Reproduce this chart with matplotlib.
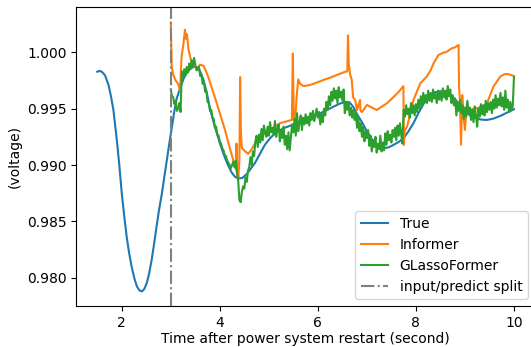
import numpy as np
import matplotlib
matplotlib.use('Agg')
import matplotlib.pyplot as plt

# True voltage (time in s, voltage)
true_t = [1.50, 1.55, 1.60, 1.66, 1.73, 1.78, 1.83, 1.90, 1.95, 2.00, 2.05, 2.10, 2.15,
          2.20, 2.26, 2.31, 2.36, 2.41, 2.46, 2.51, 2.56, 2.61, 2.66, 2.71, 2.76, 2.82,
          2.87, 2.92, 2.97, 3.02, 3.07, 3.12, 3.19, 3.26, 3.32, 3.39, 3.45, 3.50, 3.55,
          3.60, 3.67, 3.74, 3.80, 3.87, 3.94, 4.00, 4.07, 4.15, 4.24, 4.31, 4.38, 4.46,
          4.55, 4.62, 4.72, 4.82, 4.92, 5.03, 5.15, 5.30, 5.47, 5.64, 5.81, 5.98, 6.15,
          6.32, 6.45, 6.56, 6.65, 6.73, 6.80, 6.90, 7.00, 7.10, 7.20, 7.29, 7.37, 7.45,
          7.54, 7.65, 7.75, 7.85, 7.95, 8.05, 8.16, 8.27, 8.39, 8.50, 8.60, 8.67, 8.75,
          8.84, 8.94, 9.04, 9.14, 9.24, 9.35, 9.45, 9.58, 9.72, 9.86, 10.00]
true_v = [0.99828, 0.99835, 0.99825, 0.99795, 0.99710, 0.99610, 0.99488, 0.99220, 0.99000,
          0.98750, 0.98550, 0.98365, 0.98220, 0.98100, 0.97990, 0.97922, 0.97888, 0.97878,
          0.97900, 0.97952, 0.98040, 0.98159, 0.98300, 0.98454, 0.98600, 0.98750, 0.98900,
          0.99045, 0.99190, 0.99330, 0.99470, 0.99590, 0.99680, 0.99765, 0.99815, 0.99850,
          0.99868, 0.99872, 0.99860, 0.99830, 0.99750, 0.99630, 0.99500, 0.99385, 0.99282,
          0.99195, 0.99105, 0.99015, 0.98935, 0.98895, 0.98880, 0.98885, 0.98920, 0.98960,
          0.99020, 0.99100, 0.99180, 0.99240, 0.99290, 0.99326, 0.99355, 0.99385, 0.99415,
          0.99444, 0.99480, 0.99518, 0.99545, 0.99560, 0.99555, 0.99510, 0.99450, 0.99380,
          0.99300, 0.99230, 0.99180, 0.99155, 0.99150, 0.99158, 0.99178, 0.99205, 0.99238,
          0.99300, 0.99371, 0.99460, 0.99545, 0.99605, 0.99645, 0.99655, 0.99650, 0.99637,
          0.99605, 0.99562, 0.99510, 0.99460, 0.99430, 0.99412, 0.99402, 0.99400, 0.99412,
          0.99435, 0.99465, 0.99495]

# Informer prediction
inf_t = [3.00, 3.005, 3.02, 3.05, 3.10, 3.15, 3.19, 3.22, 3.26, 3.29, 3.31, 3.33, 3.36,
         3.40, 3.45, 3.53, 3.60, 3.67, 3.72, 3.77, 3.84, 3.90, 4.00, 4.10, 4.18, 4.25,
         4.30, 4.33, 4.34, 4.36, 4.38, 4.40, 4.415, 4.43, 4.45, 4.52, 4.58, 4.65, 4.76,
         4.96, 5.23, 5.47, 5.49, 5.51, 5.54, 5.57, 5.60, 5.64, 5.71, 5.84, 5.97, 6.11,
         6.25, 6.39, 6.56, 6.60, 6.615, 6.63, 6.66, 6.69, 6.72, 6.76, 6.80, 6.86, 6.87,
         6.90, 7.00, 7.20, 7.41, 7.55, 7.65, 7.745, 7.755, 7.77, 7.82, 7.88, 7.95, 8.09,
         8.22, 8.30, 8.36, 8.46, 8.55, 8.63, 8.73, 8.80, 8.87, 8.88, 8.90, 8.92, 8.945,
         8.97, 9.00, 9.04, 9.06, 9.11, 9.18, 9.24, 9.35, 9.45, 9.58, 9.72, 9.80, 9.86,
         9.93, 10.00]
inf_v = [1.00265, 1.00150, 0.99870, 0.99800, 0.99750, 0.99720, 0.99660, 0.99960, 1.00080,
         1.00200, 1.00120, 1.00160, 1.00030, 0.99950, 0.99880, 0.99860, 0.99890, 0.99880,
         0.99830, 0.99775, 0.99680, 0.99600, 0.99460, 0.99320, 0.99190, 0.99080, 0.99000,
         0.98960, 0.99190, 0.98920, 0.98890, 0.99050, 0.99780, 0.99300, 0.99150, 0.99120,
         0.99100, 0.99140, 0.99222, 0.99296, 0.99371, 0.99400, 0.99990, 0.99400, 0.99420,
         0.99620, 0.99760, 0.99720, 0.99700, 0.99710, 0.99730, 0.99754, 0.99775, 0.99799,
         0.99828, 0.99830, 1.00150, 0.99900, 0.99800, 0.99760, 0.99600, 0.99577, 0.99488,
         0.99577, 0.99480, 0.99470, 0.99533, 0.99488, 0.99548, 0.99606, 0.99650, 0.99700,
         0.99178, 0.99300, 0.99340, 0.99450, 0.99577, 0.99725, 0.99784, 0.99840, 0.99902,
         0.99976, 0.99995, 1.00005, 1.00035, 1.00045, 1.00065, 0.99700, 0.99548, 0.99180,
         0.99620, 0.99440, 0.99311, 0.99550, 0.99500, 0.99490, 0.99500, 0.99503, 0.99520,
         0.99548, 0.99695, 0.99784, 0.99805, 0.99808, 0.99800, 0.99790]

# GLassoFormer prediction, sampled every 0.025 s from 3.00 to 10.00
glasso_v = [
    0.9967, 0.9961, 0.9960, 0.9954, 0.9957, 0.9948, 0.9950, 0.9955, 0.9947, 0.9983,  # 3.000
    0.9977, 0.9985, 0.9980, 0.9987, 0.9982, 0.9990, 0.9985, 0.9993, 0.9987, 0.9995,  # 3.250
    0.9989, 0.9984, 0.9985, 0.9987, 0.9979, 0.9980, 0.9972, 0.9974, 0.9965, 0.9966,  # 3.500
    0.9956, 0.9955, 0.9948, 0.9949, 0.9942, 0.9941, 0.9933, 0.9934, 0.9927, 0.9926,  # 3.750
    0.9921, 0.9919, 0.9915, 0.9913, 0.9909, 0.9908, 0.9904, 0.9902, 0.9900, 0.9897,  # 4.000
    0.9900, 0.9903, 0.9898, 0.9904, 0.9893, 0.9886, 0.9869, 0.9867, 0.9876, 0.9881,  # 4.250
    0.9879, 0.9889, 0.9885, 0.9895, 0.9898, 0.9907, 0.9900, 0.9912, 0.9908, 0.9921,  # 4.500
    0.9926, 0.9916, 0.9927, 0.9920, 0.9932, 0.9922, 0.9935, 0.9929, 0.9925, 0.9934,  # 4.750
    0.9926, 0.9938, 0.9929, 0.9933, 0.9927, 0.9939, 0.9925, 0.9932, 0.9936, 0.9921,  # 5.000
    0.9931, 0.9924, 0.9934, 0.9918, 0.9926, 0.9914, 0.9929, 0.9913, 0.9924, 0.9936,  # 5.250
    0.9929, 0.9941, 0.9926, 0.9946, 0.9930, 0.9938, 0.9944, 0.9931, 0.9942, 0.9936,  # 5.500
    0.9945, 0.9937, 0.9943, 0.9935, 0.9946, 0.9940, 0.9948, 0.9939, 0.9944, 0.9950,  # 5.750
    0.9942, 0.9947, 0.9936, 0.9945, 0.9938, 0.9950, 0.9944, 0.9956, 0.9949, 0.9961,  # 6.000
    0.9953, 0.9965, 0.9957, 0.9968, 0.9959, 0.9966, 0.9955, 0.9969, 0.9960, 0.9965,  # 6.250
    0.9957, 0.9967, 0.9946, 0.9955, 0.9949, 0.9956, 0.9944, 0.9951, 0.9942, 0.9949,  # 6.500
    0.9940, 0.9946, 0.9933, 0.9942, 0.9930, 0.9937, 0.9925, 0.9934, 0.9921, 0.9930,  # 6.750
    0.9924, 0.9931, 0.9917, 0.9926, 0.9912, 0.9922, 0.9916, 0.9925, 0.9911, 0.9919,  # 7.000
    0.9914, 0.9926, 0.9912, 0.9920, 0.9913, 0.9928, 0.9918, 0.9930, 0.9922, 0.9927,  # 7.250
    0.9920, 0.9931, 0.9925, 0.9933, 0.9922, 0.9935, 0.9926, 0.9937, 0.9927, 0.9919,  # 7.500
    0.9949, 0.9943, 0.9953, 0.9945, 0.9950, 0.9942, 0.9955, 0.9946, 0.9953, 0.9944,  # 7.750
    0.9954, 0.9947, 0.9958, 0.9950, 0.9961, 0.9953, 0.9964, 0.9956, 0.9962, 0.9955,  # 8.000
    0.9966, 0.9957, 0.9964, 0.9956, 0.9967, 0.9959, 0.9963, 0.9955, 0.9966, 0.9958,  # 8.250
    0.9965, 0.9957, 0.9968, 0.9960, 0.9966, 0.9958, 0.9970, 0.9961, 0.9967, 0.9955,  # 8.500
    0.9962, 0.9953, 0.9959, 0.9944, 0.9955, 0.9948, 0.9958, 0.9946, 0.9953, 0.9941,  # 8.750
    0.9951, 0.9943, 0.9957, 0.9946, 0.9951, 0.9940, 0.9949, 0.9938, 0.9952, 0.9944,  # 9.000
    0.9934, 0.9950, 0.9943, 0.9954, 0.9945, 0.9953, 0.9944, 0.9957, 0.9947, 0.9955,  # 9.250
    0.9949, 0.9956, 0.9946, 0.9958, 0.9950, 0.9962, 0.9951, 0.9959, 0.9953, 0.9964,  # 9.500
    0.9952, 0.9960, 0.9949, 0.9966, 0.9951, 0.9958, 0.9947, 0.9956, 0.9949, 0.9952,  # 9.750
    0.9978,                                                                          # 10.000
]
glasso_t = np.linspace(3.0, 10.0, len(glasso_v))

split_t = 3.0

fig = plt.figure(figsize=(5.31, 3.47), dpi=100)
ax = fig.add_axes([76.4 / 531, 41 / 347, 458.4 / 531, 299 / 347])

ax.plot(true_t, true_v, label='True')
ax.plot(inf_t, inf_v, label='Informer')
ax.plot(glasso_t, glasso_v, label='GLassoFormer')
ax.axvline(split_t, color='grey', linestyle='-.', label='input/predict split')

ax.set_xlim(1.075, 10.425)
ax.set_ylim(0.97749, 1.00402)
ax.set_yticks([0.980, 0.985, 0.990, 0.995, 1.000])
ax.set_xlabel('Time after power system restart (second)', labelpad=1.5)
ax.set_ylabel('(voltage)')
ax.legend(loc='lower right')

plt.savefig('out.png', dpi=100)
